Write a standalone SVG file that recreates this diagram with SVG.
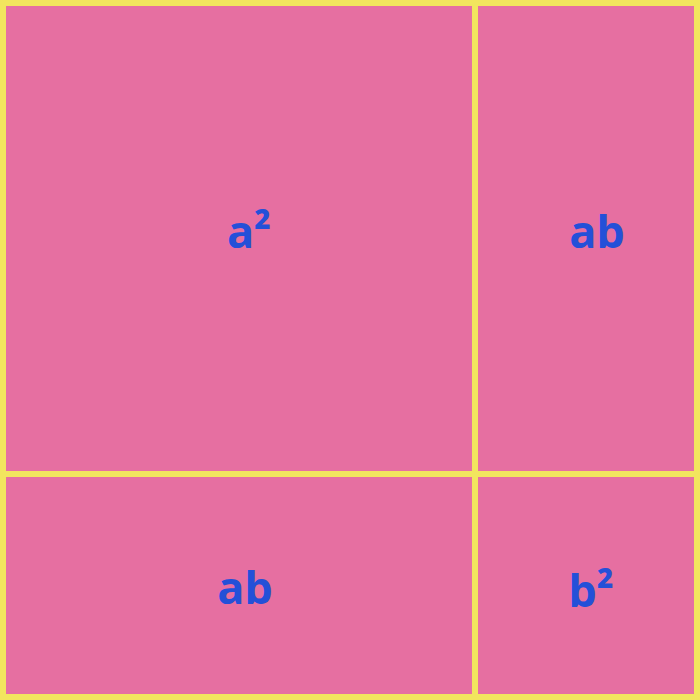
<svg xmlns="http://www.w3.org/2000/svg" width="700" height="700" viewBox="0 0 700 700">
<style>
.cell{fill:#E66FA1;stroke:#F2E55E;stroke-width:6}
.lbl{font-family:"Open Sans","Noto Sans",sans-serif;font-weight:bold;font-size:45px;fill:#2450D8;text-anchor:middle}
</style>
<rect x="0" y="0" width="700" height="700" fill="#F2E55E"/>
<g id="a2"><rect class="cell" x="3" y="3" width="472" height="471"/><text class="lbl" x="249" y="248">a²</text></g>
<g id="ab-top"><rect class="cell" x="475" y="3" width="222" height="471"/><text class="lbl" x="597" y="248">ab</text></g>
<g id="ab-bottom"><rect class="cell" x="3" y="474" width="472" height="223"/><text class="lbl" x="245" y="604">ab</text></g>
<g id="b2"><rect class="cell" x="475" y="474" width="222" height="223"/><text class="lbl" x="591" y="607">b²</text></g>
<g id="connectors"></g>
</svg>
